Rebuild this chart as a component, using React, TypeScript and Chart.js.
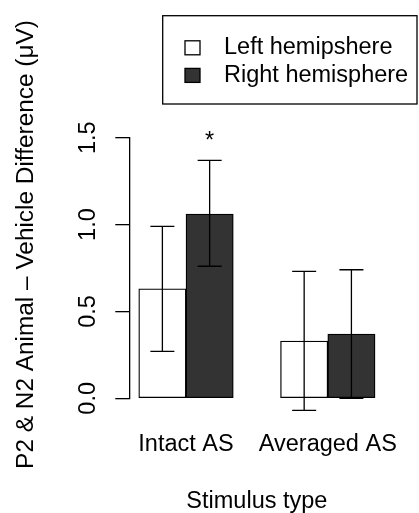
import { useEffect, useRef } from "react";
import { Chart, registerables } from "chart.js";

Chart.register(...registerables);

// Stimulus groups and hemisphere series
const categories = ["Intact AS", "Averaged AS"];
const seriesNames = ["Left hemipshere", "Right hemisphere"];
const seriesFill = ["#ffffff", "#333333"];

// Mean animal – vehicle difference (µV)
const leftMeans = [0.63, 0.33];
const rightMeans = [1.06, 0.37];

// Error bar ends
const leftLower = [0.27, -0.07];
const leftUpper = [0.99, 0.73];
const rightLower = [0.76, 0.0];
const rightUpper = [1.37, 0.74];

// Significance markers (per series, per group)
const leftSignificant = [false, false];
const rightSignificant = [true, false];

const yTicks = [0, 0.5, 1.0, 1.5];

const xTitle = "Stimulus type";
const yTitle = "P2 & N2 Animal – Vehicle Difference (μV)";

const FONT_FAMILY = '"Liberation Sans", Arial, Helvetica, sans-serif';
const FONT_SIZE = 23.5;
const FONT = `${FONT_SIZE}px ${FONT_FAMILY}`;
const TITLE_FONT = `24.4px ${FONT_FAMILY}`;

// barplot-style layout: bars of unit width, one unit gap between groups
const barCenter = (group: number, series: number) => group * 3 + series + 1.5;
const groupCenter = (group: number) => group * 3 + 2;

const means = [leftMeans, rightMeans];
const lowers = [leftLower, rightLower];
const uppers = [leftUpper, rightUpper];
const sigs = [leftSignificant, rightSignificant];

const overlayPlugin = {
  id: "overlay",
  afterDatasetsDraw(chart: any) {
    const ctx: CanvasRenderingContext2D = chart.ctx;
    const xs = chart.scales.x;
    const ys = chart.scales.y;
    const area = chart.chartArea;
    ctx.save();

    // error bars
    ctx.strokeStyle = "#000000";
    ctx.lineWidth = 1.3;
    const capHalf = 12;
    for (let s = 0; s < means.length; s++) {
      for (let g = 0; g < categories.length; g++) {
        const x = xs.getPixelForValue(barCenter(g, s));
        const yLo = ys.getPixelForValue(lowers[s][g]);
        const yHi = ys.getPixelForValue(uppers[s][g]);
        ctx.beginPath();
        ctx.moveTo(x, yLo);
        ctx.lineTo(x, yHi);
        ctx.moveTo(x - capHalf, yHi);
        ctx.lineTo(x + capHalf, yHi);
        ctx.moveTo(x - capHalf, yLo);
        ctx.lineTo(x + capHalf, yLo);
        ctx.stroke();
      }
    }

    ctx.fillStyle = "#000000";
    ctx.font = FONT;

    // significance asterisks above the upper error bar
    ctx.textAlign = "center";
    ctx.textBaseline = "alphabetic";
    for (let s = 0; s < sigs.length; s++) {
      for (let g = 0; g < categories.length; g++) {
        if (!sigs[s][g]) continue;
        const x = xs.getPixelForValue(barCenter(g, s));
        const y = ys.getPixelForValue(uppers[s][g]) - 12.5;
        ctx.fillText("*", x, y);
      }
    }

    // category labels
    categories.forEach((c, g) => {
      ctx.fillText(c, xs.getPixelForValue(groupCenter(g)), area.bottom + 52.7);
    });

    // x title
    ctx.fillText(xTitle, (area.left + area.right) / 2, area.bottom + 109.4);

    // y tick labels, parallel to the axis
    yTicks.forEach((v) => {
      ctx.save();
      ctx.translate(area.left - 34.3, ys.getPixelForValue(v));
      ctx.rotate(-Math.PI / 2);
      ctx.fillText(v.toFixed(1), 0, 0);
      ctx.restore();
    });

    // y title
    ctx.save();
    ctx.font = TITLE_FONT;
    ctx.translate(area.left - 96.5, area.top + 106.8);
    ctx.rotate(-Math.PI / 2);
    ctx.fillText(yTitle, 0, 0);
    ctx.restore();

    // legend
    const box = { left: 162.7, top: 15.7, right: 417, bottom: 104 };
    ctx.lineWidth = 1.3;
    ctx.strokeRect(box.left, box.top, box.right - box.left, box.bottom - box.top);
    const rowCenters = [47.8, 75.4];
    ctx.textAlign = "left";
    seriesNames.forEach((name, i) => {
      const cy = rowCenters[i];
      ctx.fillStyle = seriesFill[i];
      ctx.fillRect(185, cy - 7, 15, 14);
      ctx.strokeRect(185, cy - 7, 15, 14);
      ctx.fillStyle = "#000000";
      ctx.fillText(name, 224, cy + 6.6);
    });

    ctx.restore();
  },
};

export default function App() {
  const canvasRef = useRef<HTMLCanvasElement | null>(null);

  useEffect(() => {
    const canvas = canvasRef.current;
    if (!canvas) return;

    const datasets = means.map((vals, s) => ({
      label: seriesNames[s],
      data: vals.map((v, g) => ({ x: barCenter(g, s), y: v })),
      backgroundColor: seriesFill[s],
      borderColor: "#000000",
      borderWidth: 1.3,
      borderSkipped: false as const,
      grouped: false,
      categoryPercentage: 1,
      barPercentage: 1,
    }));

    const chart = new Chart(canvas, {
      type: "bar",
      data: { datasets },
      options: {
        responsive: false,
        animation: false,
        devicePixelRatio: 1,
        layout: { padding: { left: 0, top: 137.7, right: 34.5, bottom: 0 } },
        plugins: {
          legend: { display: false },
          tooltip: { enabled: false },
        },
        scales: {
          x: {
            type: "linear",
            min: 0.8,
            max: 6.2,
            offset: false,
            grid: { display: false },
            border: { display: false },
            ticks: { display: false },
            afterFit: (scale: any) => {
              scale.height = 114.7;
            },
          },
          y: {
            type: "linear",
            min: 0,
            max: 1.5,
            afterBuildTicks: (scale: any) => {
              scale.ticks = yTicks.map((v) => ({ value: v }));
            },
            ticks: { display: false },
            grid: {
              drawOnChartArea: false,
              drawTicks: true,
              tickLength: 14,
              color: "#000000",
              lineWidth: 1.3,
            },
            border: { display: true, color: "#000000", width: 1.3 },
            afterFit: (scale: any) => {
              scale.width = 129.3;
            },
          },
        },
      },
      plugins: [overlayPlugin],
    });

    return () => chart.destroy();
  }, []);

  return (
    <div style={{ position: "absolute", left: 0, top: 0, width: 419, height: 513, background: "#ffffff" }}>
      <canvas ref={canvasRef} width={419} height={513} style={{ width: 419, height: 513, display: "block" }} />
    </div>
  );
}
